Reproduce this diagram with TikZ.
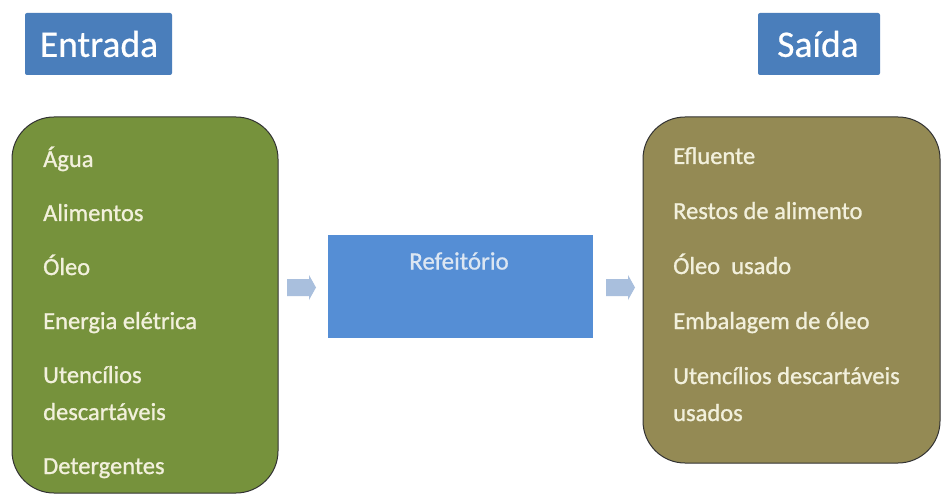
\documentclass[tikz,border=0pt]{standalone}
\usepackage{fontspec}
\setmainfont{Carlito}
\definecolor{hdrblue}{HTML}{4A7EBB}
\definecolor{midblue}{HTML}{558ED5}
\definecolor{ingreen}{HTML}{76923C}
\definecolor{outolive}{HTML}{948A54}
\definecolor{cream}{HTML}{F2F0DC}
\definecolor{lightbluetext}{HTML}{DCE6F2}
\definecolor{arrowblue}{HTML}{A9BFDD}
\tikzset{
  hdrtext/.style={text=white, font=\fontsize{37.5}{42}\selectfont\addfontfeature{FakeBold=0.6}, inner sep=0pt},
  listbox/.style={draw=black!80, line width=1pt, rounded corners=42pt},
  item/.style={anchor=base west, text=cream, font=\fontsize{24.5}{28}\selectfont\addfontfeature{FakeBold=1}, inner sep=0pt},
  blockarrow/.style={fill=arrowblue, draw=none}
}
\begin{document}
\begin{tikzpicture}[x=1pt,y=-1pt]
\useasboundingbox[fill=white] (0,0) rectangle (941,494);
% headers
\fill[hdrblue, rounded corners=2pt] (25,13) rectangle (172,75);
\node[hdrtext] (entrada) at (99,44) {Entrada};
\fill[hdrblue, rounded corners=2pt] (758,13) rectangle (880,75);
\node[hdrtext] (saida) at (818,44) {Saída};
% input box
\draw[listbox, fill=ingreen] (12,117) rectangle (278,493);
\node[item] (i1) at (43,167) {Água};
\node[item] (i2) at (43,221) {Alimentos};
\node[item] (i3) at (43,275) {Óleo};
\node[item] (i4) at (43,329) {Energia elétrica};
\node[item] (i5) at (43,383) {Utencílios};
\node[item] (i6) at (43,420) {descartáveis};
\node[item] (i7) at (43,474) {Detergentes};
% output box
\draw[listbox, fill=outolive] (643,117) rectangle (940,463);
\node[item] (o1) at (673,164) {Efluente};
\node[item] (o2) at (673,219) {Restos de alimento};
\node[item] (o3) at (673,274) {Óleo\ \ usado};
\node[item] (o4) at (673,329) {Embalagem de óleo};
\node[item] (o5) at (673,384) {Utencílios descartáveis};
\node[item] (o6) at (673,421) {usados};
% central box
\fill[midblue] (328,235) rectangle (593,338);
\node[text=lightbluetext, font=\fontsize{25}{28}\selectfont\addfontfeature{FakeBold=0.8}, inner sep=0pt] (ref) at (459,261) {Refeitório};
% arrows
\fill[blockarrow] (287,279) -- (309,279) -- (309,275) -- (316,287.5) -- (309,300) -- (309,296) -- (287,296) -- cycle;
\fill[blockarrow] (606,279) -- (628,279) -- (628,275) -- (635,287.5) -- (628,300) -- (628,296) -- (606,296) -- cycle;
\end{tikzpicture}
\end{document}
